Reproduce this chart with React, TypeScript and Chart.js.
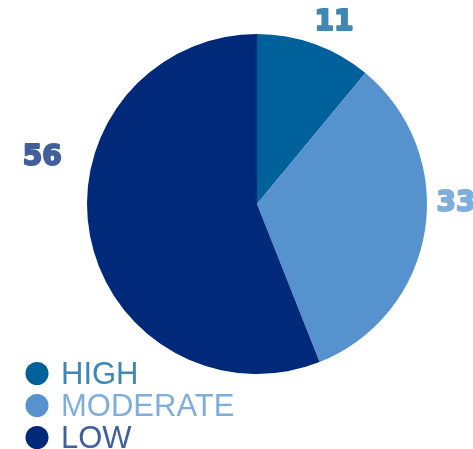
import React, { useEffect, useRef } from "react";
import { Chart, registerables } from "chart.js";

Chart.register(...registerables);

const categories = ["HIGH", "MODERATE", "LOW"];
const values = [11, 33, 56];
const sliceColors = ["#00609A", "#5592CE", "#00297A"];
const textColors = ["#4088B3", "#80AEDA", "#405F9B"];

const valueLabelPlugin = {
  id: "valueLabels",
  afterDatasetsDraw(chart: any, _args: any, opts: any) {
    const ctx = chart.ctx;
    const meta = chart.getDatasetMeta(0);
    ctx.save();
    ctx.font = "bold 28px 'DejaVu Sans'";
    ctx.textAlign = "center";
    ctx.textBaseline = "middle";
    ctx.lineJoin = "round";
    ctx.lineWidth = 2;
    meta.data.forEach((arc: any, i: number) => {
      const p = arc.getProps(["x", "y", "startAngle", "endAngle", "outerRadius"], true);
      const adj = opts.adjust[i] || { da: 0, dr: 28 };
      const a = (p.startAngle + p.endAngle) / 2 + (adj.da * Math.PI) / 180;
      const r = p.outerRadius + adj.dr;
      const tx = p.x + r * Math.cos(a);
      const ty = p.y + r * Math.sin(a) + 1;
      ctx.fillStyle = textColors[i];
      ctx.strokeStyle = textColors[i];
      ctx.strokeText(String(values[i]), tx, ty);
      ctx.fillText(String(values[i]), tx, ty);
    });
    ctx.restore();
  },
};

const legendPlugin = {
  id: "customLegend",
  afterDraw(chart: any, _args: any, opts: any) {
    const ctx = chart.ctx;
    ctx.save();
    ctx.font = "31px 'Liberation Sans', Arial, sans-serif";
    ctx.textAlign = "left";
    ctx.textBaseline = "alphabetic";
    categories.forEach((c, i) => {
      const y = opts.y + i * opts.spacing;
      ctx.beginPath();
      ctx.fillStyle = sliceColors[i];
      ctx.arc(opts.x, y, opts.radius, 0, Math.PI * 2);
      ctx.fill();
      ctx.fillStyle = textColors[i];
      ctx.fillText(c, opts.x + 24, y + 10.5);
    });
    ctx.restore();
  },
};

export default function App() {
  const ref = useRef<HTMLCanvasElement>(null);
  useEffect(() => {
    if (!ref.current) return;
    const chart = new Chart(ref.current, {
      type: "pie",
      data: {
        labels: categories,
        datasets: [
          {
            data: values,
            backgroundColor: sliceColors,
            borderWidth: 0,
          },
        ],
      },
      options: {
        responsive: false,
        animation: false,
        layout: { padding: { top: 34, bottom: 75, left: 87, right: 46 } },
        plugins: {
          legend: { display: false },
          tooltip: { enabled: false },
          valueLabels: {
            adjust: [
              { da: 3.1, dr: 28 },
              { da: -9.3, dr: 29 },
              { da: 23.2, dr: 50 },
            ],
          },
          customLegend: { x: 37, y: 373.5, spacing: 32, radius: 11.5 },
        } as any,
      },
      plugins: [valueLabelPlugin, legendPlugin],
    });
    return () => chart.destroy();
  }, []);
  return (
    <div style={{ position: "fixed", left: 0, top: 0, width: 473, height: 449, background: "#fff" }}>
      <canvas ref={ref} width={473} height={449} style={{ width: 473, height: 449 }} />
    </div>
  );
}
